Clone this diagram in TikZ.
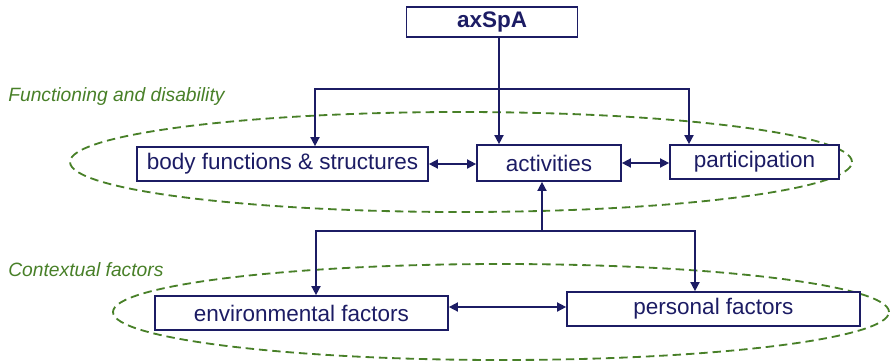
\documentclass[tikz,border=0pt]{standalone}
\usepackage{fontspec}
\setmainfont{Liberation Sans}
\usepackage{tikz}
\usetikzlibrary{calc,arrows.meta}
\definecolor{navy}{RGB}{28,28,100}
\definecolor{icfgreen}{RGB}{72,128,40}

\begin{document}
\begin{tikzpicture}
    \tikzstyle{dedge}  = [line width=1.1pt,->,>={Triangle[length=6.5pt,width=6.5pt]},draw=navy]
    \tikzstyle{ddedge} = [line width=1.1pt,<->,>={Triangle[length=6.5pt,width=6.5pt]},draw=navy]
    \tikzstyle{box}=[
      rectangle,
      draw=navy,
      line width=1.2pt,
      fill=white,
      text=navy,
      anchor=center,
      minimum height=0.85cm,
      font=\fontsize{16}{19}\selectfont,
    ]
    \tikzstyle{group}=[
      draw=icfgreen,
      line width=1.3pt,
      dash pattern=on 6pt off 3.5pt,
    ]
    \tikzstyle{grouplabel}=[
      anchor=west,
      text=icfgreen,
      inner sep=0pt,
      font=\fontsize{13.7}{17}\selectfont\itshape,
    ]

    \useasboundingbox (0,0) rectangle (22.275,-9.05);

    \coordinate (topAnchor) at (12.3,-0.55);
    \coordinate (bottomAnchor) at (12.525,-7.8);

    % dashed groups
    {
      \draw[group] ([xshift=-1cm, yshift=3.75cm] bottomAnchor) ellipse [x radius=9.775cm, y radius=1.25cm];
      \draw[group] (bottomAnchor) ellipse [x radius=9.7cm, y radius=1.2cm];
      \node[grouplabel] (funcLabel) at (0.2,-2.425) {Functioning and disability};
      \node[grouplabel] (contextLabel) at (0.2,-6.75) {Contextual factors};
    }

    % functioning and disability
    {
      \node[box, minimum width=4.275cm, minimum height=0.7cm, font=\fontsize{16}{19}\selectfont\bfseries] (axspa) at (topAnchor) {axSpA};

      \node[box, minimum width=7.275cm] (body) at ([xshift=-5.2375cm, yshift=-3.55cm] topAnchor) {body functions \& structures};
      \node[box, minimum width=3.6cm, minimum height=0.9cm] (activities) at ([xshift=1.425cm, yshift=-3.525cm] topAnchor) {activities};
      \node[box, minimum width=4.225cm] (participation) at ([xshift=6.5625cm, yshift=-3.5cm] topAnchor) {participation};

      \coordinate (split1) at (12.475,-2.225);
      \draw[dedge] (axspa.south -| split1)--(activities.north -| split1);
      \draw[dedge] (split1) -| ([xshift=0.8125cm] body.north);
      \draw[dedge] (split1) -| ([xshift=-1.6375cm] participation.north);

      \draw[ddedge] (body.east)--(body.east -| activities.west);
      \draw[ddedge] (activities.east)--(activities.east -| participation.west);
    }

    % contextual factors
    {
      \node[box, minimum width=7.325cm] (environment) at ([xshift=-4.9875cm, yshift=-0.025cm] bottomAnchor) {environmental factors};
      \node[box, minimum width=7.325cm] (personal) at ([xshift=5.3125cm, yshift=0.075cm] bottomAnchor) {personal factors};

      \coordinate (split2) at (13.55,-5.775);
      \draw[dedge] (split2)--(split2 |- activities.south);
      \draw[dedge] (split2) -| ([xshift=0.3625cm] environment.north);
      \draw[dedge] (split2) -| ([xshift=-0.4625cm] personal.north);

      \draw[ddedge] ([yshift=0.15cm] environment.east)--([yshift=0.15cm] environment.east -| personal.west);
    }
\end{tikzpicture}
\end{document}
